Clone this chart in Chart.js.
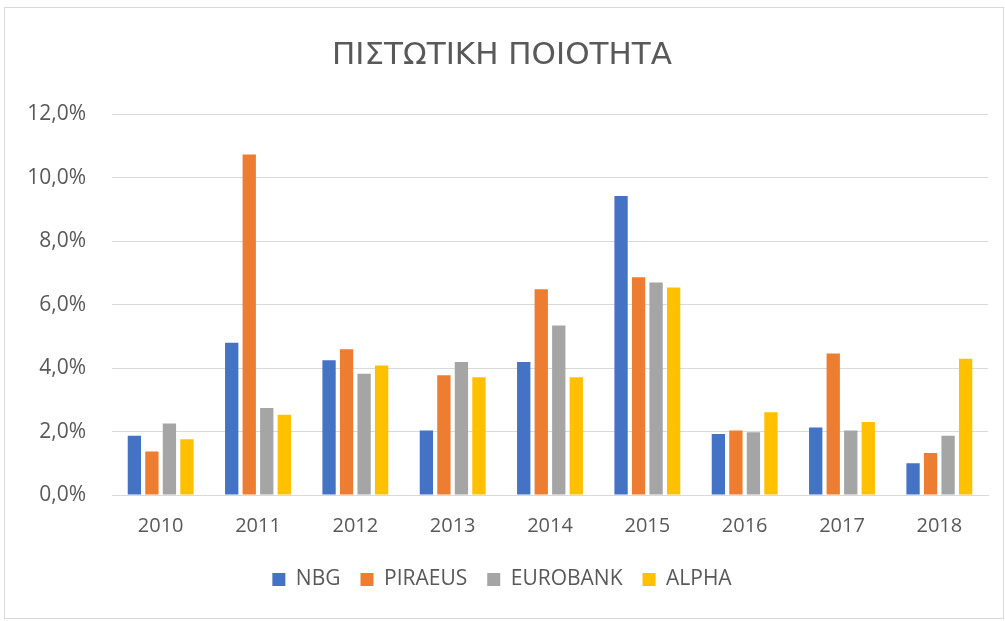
<!DOCTYPE html>
<html><head><meta charset="utf-8">
<script src="https://cdn.jsdelivr.net/npm/chart.js@4"></script>
<style>
html,body{margin:0;padding:0;background:#fff;}
#wrap{position:absolute;left:4px;top:7px;width:1000px;height:612px;border:1px solid #d9d9d9;box-sizing:border-box;}
canvas{position:absolute;left:0;top:0;}
</style></head><body>
<div id="wrap"></div>
<canvas id="c" width="1005" height="621"></canvas>
<script>
const categories = ['2010','2011','2012','2013','2014','2015','2016','2017','2018'];
const seriesNames = ['NBG','PIRAEUS','EUROBANK','ALPHA'];
const nbg = [1.87, 4.80, 4.25, 2.03, 4.19, 9.42, 1.92, 2.13, 1.00];
const piraeus = [1.37, 10.73, 4.59, 3.77, 6.48, 6.86, 2.03, 4.46, 1.32];
const eurobank = [2.25, 2.74, 3.82, 4.19, 5.34, 6.70, 1.98, 2.03, 1.87];
const alpha = [1.76, 2.53, 4.08, 3.71, 3.71, 6.54, 2.61, 2.30, 4.29];
const yTicks = [0, 2, 4, 6, 8, 10, 12];
const colors = ['#4472C4','#ED7D31','#A5A5A5','#FFC000'];
const values = [nbg, piraeus, eurobank, alpha];

const font = "'Open Sans', 'Noto Sans', sans-serif";
new Chart(document.getElementById('c'), {
  type: 'bar',
  data: {
    labels: categories,
    datasets: seriesNames.map((n,i)=>({label:n,data:values[i],backgroundColor:colors[i],categoryPercentage:0.72,barPercentage:0.76}))
  },
  options: {
    responsive:false, animation:false,
    layout:{padding:{left:16,right:17,top:0,bottom:21}},
    plugins:{
      title:{display:true,text:'ΠΙΣΤΩΤΙΚΗ ΠΟΙΟΤΗΤΑ',color:'#595959',
        font:{family:"'DejaVu Sans', sans-serif",size:31,weight:'normal'},
        padding:{top:37,bottom:40}},
      legend:{position:'bottom',labels:{boxWidth:13,boxHeight:13,color:'#595959',font:{family:font,size:21,lineHeight:1.2},padding:20}},
      tooltip:{enabled:false}
    },
    scales:{
      x:{grid:{display:false},border:{color:'#d9d9d9'},ticks:{color:'#595959',font:{family:font,size:20},padding:11}},
      y:{min:0,max:12,afterBuildTicks:s=>{s.ticks=yTicks.map(v=>({value:v}));},
        afterFit:s=>{s.width=96;},
        grid:{color:'#d9d9d9',drawTicks:false},border:{display:false},
        ticks:{color:'#595959',font:{family:font,size:21},padding:26,callback:v=>v.toFixed(1).replace('.',',')+'%'}}
    }
  }
});
</script></body></html>
